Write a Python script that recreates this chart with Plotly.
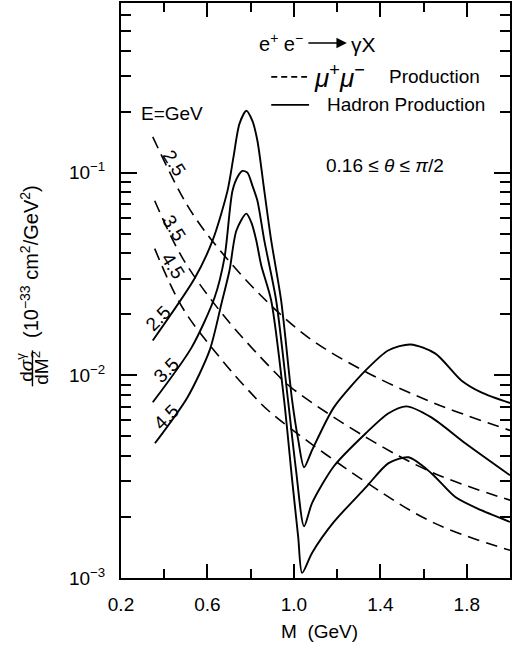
import plotly.graph_objects as go

# ---------------- data ----------------
energies = ["2.5", "3.5", "4.5"]

# Hadron production (solid), M in GeV
h25_m = [0.347, 0.541, 0.624, 0.693, 0.720, 0.748, 0.780, 0.808, 0.831, 0.863, 0.895,
         0.941, 0.992, 1.020, 1.047, 1.084, 1.185, 1.333, 1.438, 1.540, 1.655, 1.775, 1.867, 2.0]
h25_v = [0.01486, 0.0301, 0.0463, 0.0815, 0.1185, 0.174, 0.202, 0.18, 0.144, 0.0815, 0.0463,
         0.0234, 0.0075, 0.0048, 0.00352, 0.00427, 0.00695, 0.0106, 0.0133, 0.0142, 0.0128, 0.00944, 0.00824, 0.0073]

h35_m = [0.347, 0.527, 0.633, 0.679, 0.716, 0.743, 0.762, 0.785, 0.808, 0.831, 0.863,
         0.918, 0.973, 1.010, 1.047, 1.084, 1.185, 1.333, 1.438, 1.521, 1.636, 1.793, 2.0]
h35_v = [0.00736, 0.01374, 0.0242, 0.0381, 0.0815, 0.0967, 0.102, 0.10, 0.0863, 0.0728, 0.0463,
         0.0234, 0.0075, 0.0034, 0.0018, 0.00234, 0.00356, 0.00518, 0.0065, 0.00703, 0.0062, 0.00462, 0.00321]

h45_m = [0.357, 0.508, 0.610, 0.665, 0.702, 0.734, 0.780, 0.803, 0.826, 0.849, 0.895, 0.955,
         0.992, 1.020, 1.038, 1.084, 1.185, 1.333, 1.438, 1.531, 1.636, 1.747, 1.867, 2.0]
h45_v = [0.00462, 0.0078, 0.01327, 0.02264, 0.0329, 0.0518, 0.0628, 0.0568, 0.0463, 0.0348, 0.0234, 0.0075,
         0.00304, 0.00159, 0.00106, 0.00133, 0.00189, 0.0028, 0.00369, 0.00394, 0.00329, 0.00251, 0.00216, 0.00189]

# mu+ mu- production (dashed)
d25_m = [0.347, 0.502, 0.621, 0.837, 1.066, 1.34, 1.648, 2.0]
d25_v = [0.150, 0.0704, 0.0463, 0.0254, 0.0154, 0.0103, 0.0073, 0.00535]
d35_m = [0.356, 0.484, 0.667, 0.896, 0.988, 1.34, 1.648, 2.0]
d35_v = [0.0727, 0.038, 0.0202, 0.0108, 0.0087, 0.0049, 0.00329, 0.00242]
d45_m = [0.356, 0.484, 0.667, 0.805, 0.896, 1.34, 1.648, 2.0]
d45_v = [0.0422, 0.0216, 0.0119, 0.0081, 0.0065, 0.00294, 0.00187, 0.00137]

x_tickvals = [0.2, 0.6, 1.0, 1.4, 1.8]
x_ticktext = ["0.2", "0.6", "1.0", "1.4", "1.8"]
x_minor = [0.4, 0.8, 1.2, 1.6]
y_tickvals = [0.001, 0.01, 0.1]
y_ticktext = ["10<sup>−3</sup>", "10<sup>−2</sup>", "10<sup>−1</sup>"]
y_minor = [k * 10.0 ** e for e in (-3, -2, -1) for k in range(2, 10)]

# ---------------- figure ----------------
W, H = 513, 646
L, R, T, B = 121, 1, 2, 68
FONT = "Liberation Sans, Arial, sans-serif"


def px(x, y):
    """pixel position on the page -> paper coordinates"""
    return (x - L) / (W - L - R), (H - B - y) / (H - T - B)


fig = go.Figure()
solid = [(h25_m, h25_v), (h35_m, h35_v), (h45_m, h45_v)]
dashed = [(d25_m, d25_v), (d35_m, d35_v), (d45_m, d45_v)]
for (m, v), e in zip(solid, energies):
    fig.add_trace(go.Scatter(x=m, y=v, mode="lines", name="Hadron E=" + e,
                             line=dict(color="black", width=1.9, shape="spline", smoothing=0.75),
                             showlegend=False))
for (m, v), e in zip(dashed, energies):
    fig.add_trace(go.Scatter(x=m, y=v, mode="lines", name="μμ E=" + e,
                             line=dict(color="black", width=1.6, dash="12px,7px", shape="spline", smoothing=1.0),
                             showlegend=False))

ann = []


def text(x, y, s, size=19, xanchor="center", angle=0):
    xp, yp = px(x, y)
    ann.append(dict(x=xp, y=yp, xref="paper", yref="paper", text=s, showarrow=False,
                    xanchor=xanchor, yanchor="middle", textangle=angle,
                    font=dict(family=FONT, size=size, color="black")))


# legend block
text(306, 42, "e<sup>+</sup> e<sup>−</sup>", size=20, xanchor="right")
text(350, 44, "γX", size=21, xanchor="left")
text(313, 76, "<i>μ</i><sup>+</sup><i>μ</i><sup>−</sup>", size=26, xanchor="left")
text(388, 76, "Production", xanchor="left")
text(326, 104, "Hadron Production", xanchor="left")
text(325, 165, "0.16 ≤ <i>θ</i> ≤ <i>π</i>/2", xanchor="left")
text(172, 113, "E=GeV")

# curve labels
for (x, y), e in zip([(158, 318), (166, 370), (166, 417)], energies):
    text(x, y, e, size=19, angle=-45)
for (x, y), e in zip([(174, 162), (174, 227), (173, 265)], energies):
    text(x, y, e, size=19, angle=58)

# y-axis title (fraction + units)
text(25, 367, "d<i>σ</i><sup>γ</sup>", size=19, angle=-90)
text(40, 367, "dM<sup>2</sup>", size=19, angle=-90)
text(29, 261, "(10<sup>−33</sup> cm<sup>2</sup>/GeV<sup>2</sup>)", size=20, angle=-90)
# x-axis title
text(321, 632, "M  (GeV)", size=19)

# arrow in e+e- -> gamma X
ax1, ay1 = px(348, 42)
ann.append(dict(x=ax1, y=ay1, xref="paper", yref="paper", ax=-40, ay=0,
                axref="pixel", ayref="pixel", text="", showarrow=True,
                arrowhead=2, arrowsize=1.3, arrowwidth=1.6, arrowcolor="black", standoff=0))

shapes = []
# legend samples
x0, y0 = px(272, 76)
x1, _ = px(308, 76)
shapes.append(dict(type="line", xref="paper", yref="paper", x0=x0, x1=x1, y0=y0, y1=y0,
                   line=dict(color="black", width=1.6, dash="6px,4px")))
x0, y0 = px(272, 104)
x1, _ = px(310, 104)
shapes.append(dict(type="line", xref="paper", yref="paper", x0=x0, x1=x1, y0=y0, y1=y0,
                   line=dict(color="black", width=1.8)))
# fraction bar of y title
x0, y0 = px(32, 350)
_, y1 = px(32, 386)
shapes.append(dict(type="line", xref="paper", yref="paper", x0=x0, x1=x0, y0=y0, y1=y1,
                   line=dict(color="black", width=1.4)))

axis_common = dict(showline=True, linewidth=2, linecolor="black", mirror="allticks",
                   ticks="inside", tickwidth=1.5, tickcolor="black", showgrid=False, zeroline=False,
                   tickfont=dict(family=FONT, size=19, color="black"))

fig.update_layout(
    width=W, height=H, margin=dict(l=L, r=R, t=T, b=B),
    paper_bgcolor="white", plot_bgcolor="white",
    xaxis=dict(range=[0.2, 2.0], tickmode="array", tickvals=x_tickvals, ticktext=x_ticktext,
               ticklen=14, ticklabelstandoff=8,
               minor=dict(tickmode="array", tickvals=x_minor, ticks="inside", ticklen=9,
                          tickwidth=1.5, tickcolor="black", showgrid=False),
               **axis_common),
    yaxis=dict(type="log", range=[-3, -0.163], tickmode="array", tickvals=y_tickvals, ticktext=y_ticktext,
               ticklen=16, ticklabelstandoff=10,
               minor=dict(tickmode="array", tickvals=y_minor, ticks="inside", ticklen=10,
                          tickwidth=1.5, tickcolor="black", showgrid=False),
               **axis_common),
    annotations=ann, shapes=shapes, showlegend=False,
)

fig.write_html("out.html")
